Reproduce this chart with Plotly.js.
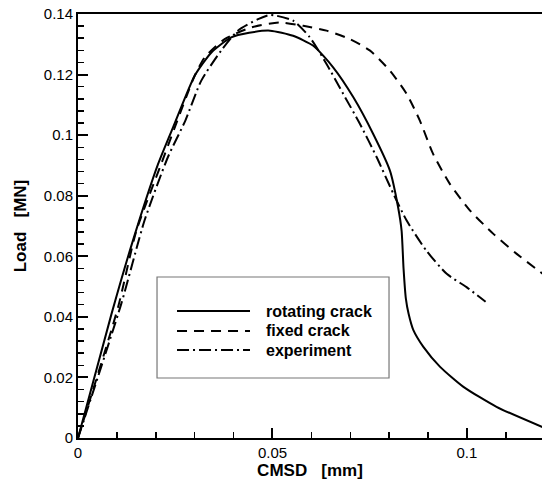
<!DOCTYPE html>
<html>
<head>
<meta charset="utf-8">
<script src="https://cdn.plot.ly/plotly-3.0.1.min.js"></script>
<style>html,body{margin:0;padding:0;background:#fff;}#chart{width:542px;height:483px;}</style>
</head>
<body>
<div id="chart"></div>
<script>
// CMSD [mm] and Load [MN]
const rotX = [0, 0.0086, 0.0141, 0.0206, 0.0248, 0.0300, 0.0343, 0.0394, 0.0440, 0.0494, 0.0553, 0.0605, 0.0656, 0.0708, 0.0759, 0.0802, 0.0823, 0.0832, 0.0837, 0.0843, 0.0850, 0.0862, 0.0888, 0.0931, 0.0991, 0.1076, 0.1200];
const rotY = [0, 0.0409, 0.0651, 0.0905, 0.1037, 0.1196, 0.1273, 0.1323, 0.1338, 0.1345, 0.1328, 0.1295, 0.1224, 0.1125, 0.1004, 0.0883, 0.0762, 0.0685, 0.0560, 0.0460, 0.0410, 0.0357, 0.0301, 0.0235, 0.0169, 0.0103, 0.0033];

const fixX = [0, 0.0103, 0.0150, 0.0214, 0.0300, 0.0326, 0.0377, 0.0446, 0.0519, 0.0579, 0.0639, 0.0699, 0.0751, 0.0802, 0.0845, 0.0879, 0.0913, 0.0956, 0.1008, 0.1068, 0.1128, 0.1200];
const fixY = [0, 0.0432, 0.0684, 0.0905, 0.1196, 0.1257, 0.1317, 0.1356, 0.1372, 0.1361, 0.1345, 0.1317, 0.1279, 0.1213, 0.1136, 0.1048, 0.0938, 0.0839, 0.0751, 0.0674, 0.0608, 0.0537];

const expX = [0, 0.0111, 0.0171, 0.0231, 0.0276, 0.0317, 0.0368, 0.0411, 0.0463, 0.0494, 0.0553, 0.0596, 0.0639, 0.0682, 0.0725, 0.0768, 0.0811, 0.0845, 0.0896, 0.0948, 0.0999, 0.1048];
const expY = [0, 0.0442, 0.0718, 0.0927, 0.1048, 0.1180, 0.1279, 0.1345, 0.1383, 0.1397, 0.1378, 0.1323, 0.1235, 0.1136, 0.1037, 0.0927, 0.0806, 0.0718, 0.0618, 0.0542, 0.0498, 0.0450];

const seriesNames = ["rotating crack", "fixed crack", "experiment"];
const xTickVals = [0, 0.05, 0.1];
const xTickText = ["0", "0.05", "0.1"];
const yTickVals = [0, 0.02, 0.04, 0.06, 0.08, 0.1, 0.12, 0.14];
const yTickText = ["0", "0.02", "0.04", "0.06", "0.08", "0.1", "0.12", "0.14"];

const FONT = "Liberation Sans, Arial, Helvetica, sans-serif";
const dashes = ["solid", "10px,7px", "12px,4px,2px,4px"];
const xs = [rotX, fixX, expX];
const ys = [rotY, fixY, expY];

const traces = xs.map((x, i) => ({
  x: x, y: ys[i], mode: "lines", name: seriesNames[i], showlegend: false,
  line: {color: "#000", width: 2, dash: dashes[i], shape: "spline", smoothing: 0.6}
}));

// manual legend box (paper coords)
const legRows = [0.2995, 0.2524, 0.2075];
const shapes = [{type: "rect", xref: "paper", yref: "paper", x0: 0.1703, x1: 0.6703, y0: 0.1415, y1: 0.3797,
  line: {color: "#777", width: 1.2}, fillcolor: "rgba(0,0,0,0)"}];
const annotations = [];
legRows.forEach((yy, i) => {
  shapes.push({type: "line", xref: "paper", yref: "paper", x0: 0.2134, x1: 0.3707, y0: yy, y1: yy,
    line: {color: "#000", width: 2, dash: dashes[i]}});
  annotations.push({xref: "paper", yref: "paper", x: 0.4015, y: yy, xanchor: "left", yanchor: "middle",
    text: "<b>" + seriesNames[i] + "</b>", showarrow: false, font: {family: FONT, size: 16, color: "#000"}});
});

const layout = {
  width: 542, height: 483,
  margin: {l: 78, r: 0, t: 14, b: 45, pad: 0},
  paper_bgcolor: "#fff", plot_bgcolor: "#fff",
  showlegend: false,
  font: {family: FONT, color: "#000", size: 15},
  xaxis: {
    range: [0, 0.1193], showgrid: false, zeroline: false,
    showline: true, linecolor: "#000", linewidth: 2, mirror: true,
    ticks: "inside", ticklen: 10, tickwidth: 2, tickcolor: "#000",
    tickvals: xTickVals, ticktext: xTickText,
    tickfont: {family: FONT, size: 15},
    minor: {dtick: 0.01, ticks: "inside", ticklen: 6, tickwidth: 1.5, tickcolor: "#000", showgrid: false},
    title: {text: "<b>CMSD\u00A0\u00A0 [mm]</b>", font: {family: FONT, size: 17}, standoff: 2},
    automargin: false
  },
  yaxis: {
    range: [0, 0.14], showgrid: false, zeroline: false,
    showline: true, linecolor: "#000", linewidth: 2,
    ticks: "inside", ticklen: 10, tickwidth: 2, tickcolor: "#000",
    tickvals: yTickVals, ticktext: yTickText,
    tickfont: {family: FONT, size: 15},
    minor: {dtick: 0.004, ticks: "inside", ticklen: 6, tickwidth: 1.5, tickcolor: "#000", showgrid: false},
    title: {text: "<b>Load\u00A0\u00A0 [MN]</b>", font: {family: FONT, size: 17}, standoff: 13},
    automargin: false
  },
  shapes: shapes,
  annotations: annotations
};

Plotly.newPlot("chart", traces, layout, {staticPlot: true, displayModeBar: false});
</script>
</body>
</html>
